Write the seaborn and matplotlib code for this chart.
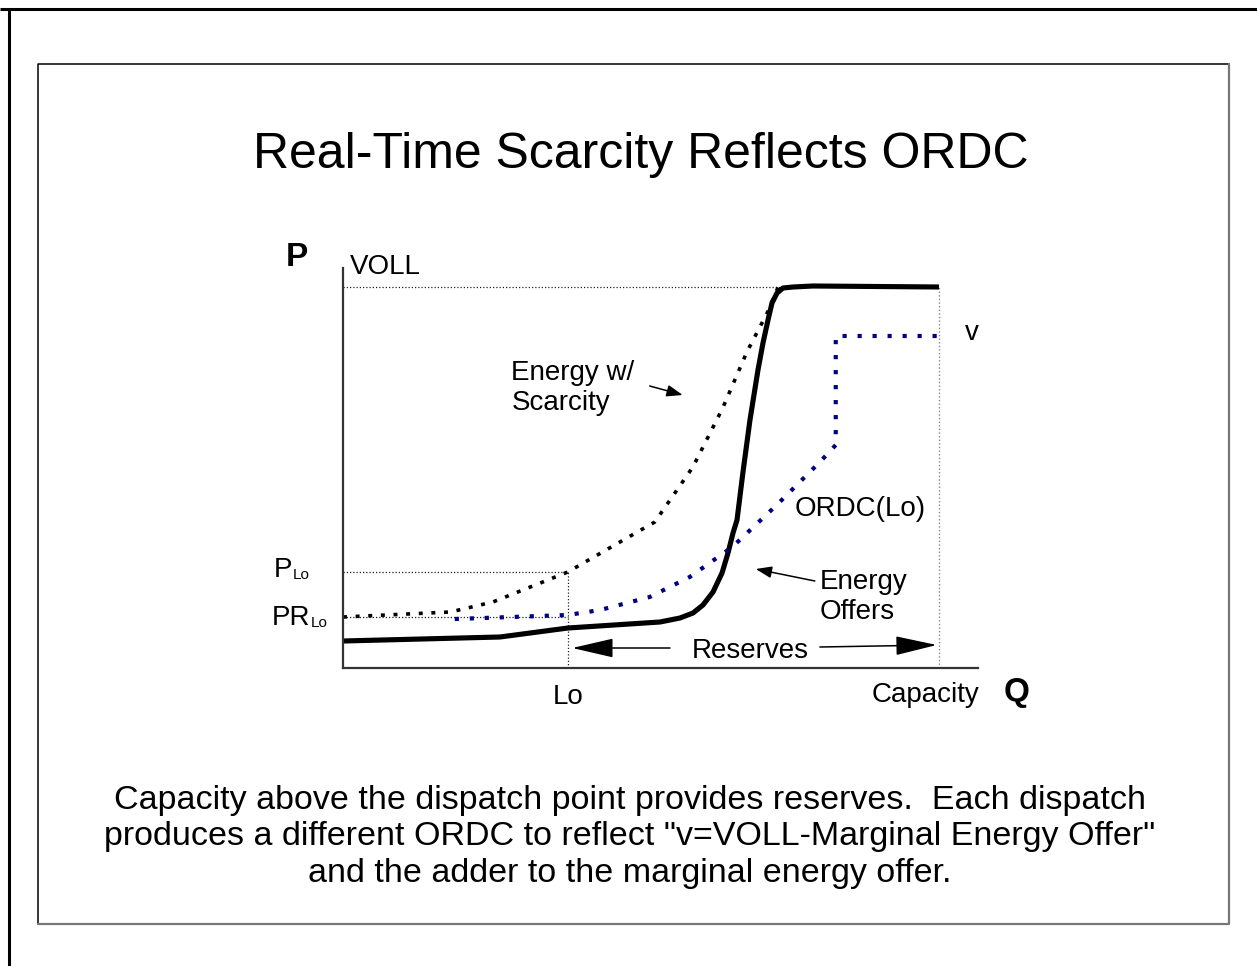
import matplotlib
matplotlib.use("Agg")
import matplotlib.pyplot as plt
import seaborn as sns

# ---- curve data (Q = quantity, P = price, both on a 0-100 scale) ----
offer_q = [0, 24.72, 35.43, 49.92, 53.07, 55.12, 56.69, 58.27, 59.69, 60.63, 61.42, 62.05,
           62.99, 64.09, 65.35, 66.14, 66.93, 67.56, 68.35, 69.29, 70.87, 74.02, 93.86]
offer_p = [6.75, 7.75, 10.0, 11.5, 12.5, 13.75, 15.75, 19.0, 23.75, 28.75, 33.75, 37.0,
           49.0, 62.0, 74.5, 81.25, 87.0, 91.25, 93.75, 95.0, 95.25, 95.5, 95.25]

scarcity_q = [0, 16.9, 23.6, 35.4, 49.1, 55.1, 59.8, 63.6, 66.8, 68.8]
scarcity_p = [12.75, 14.0, 16.5, 24.0, 36.5, 50.25, 65.0, 79.0, 88.75, 96.25]

ordc_q = [17.6, 35.4, 40.5, 48.3, 54.6, 61.3, 68.3, 75.1, 77.6, 77.6, 93.5]
ordc_p = [12.25, 13.25, 14.5, 17.75, 22.75, 30.25, 40.75, 51.5, 55.75, 83.0, 83.0]

# key levels
voll = 95.25
capacity = 93.9
lo = 35.4
p_lo = 24.0
pr_lo = 12.75

title = "Real-Time Scarcity Reflects ORDC"
caption = ('Capacity above the dispatch point provides reserves.  Each dispatch\n'
           'produces a different ORDC to reflect "v=VOLL-Marginal Energy Offer"\n'
           'and the adder to the marginal energy offer.')

sns.set_style("white")
plt.rcParams["font.family"] = ["Liberation Sans", "DejaVu Sans"]
plt.rcParams["text.color"] = "black"

W, H = 1257, 966
fig = plt.figure(figsize=(W / 100, H / 100), dpi=100)

# ---- page decoration layer in pixel units ----
bg = fig.add_axes([0, 0, 1, 1])
bg.set_xlim(0, W)
bg.set_ylim(H, 0)
bg.axis("off")
bg.plot([0, W], [9, 9], color="black", lw=2.2, solid_capstyle="butt")
bg.plot([9, 9], [9, H], color="black", lw=2.2, solid_capstyle="butt")
bg.plot([38, 38, 1229], [924, 64, 64], color="black", lw=1.1)
bg.plot([38, 1229, 1229], [924, 924, 64], color="#777777", lw=1.6)
bg.text(641, 155, title, ha="center", va="center", fontsize=36)
bg.text(630, 837, caption, ha="center", va="center", fontsize=24.5, linespacing=1.23)

# ---- chart axes ----
x0, x1, ytop, ybot = 343, 978, 268, 668
ax = fig.add_axes([x0 / W, (H - ybot) / H, (x1 - x0) / W, (ybot - ytop) / H])
ax.patch.set_alpha(0)
ax.set_xlim(0, 100)
ax.set_ylim(0, 100)
ax.set_xticks([])
ax.set_yticks([])
for s in ["top", "right"]:
    ax.spines[s].set_visible(False)
for s in ["left", "bottom"]:
    ax.spines[s].set_color("#333333")
    ax.spines[s].set_linewidth(1.6)

# thin dotted guide lines
guide = dict(color="#222222", lw=0.9, linestyle=(0, (1, 1.6)))
ax.plot([0, scarcity_q[-1]], [voll, voll], **guide)
ax.plot([0, lo], [p_lo, p_lo], **guide)
ax.plot([0, lo], [pr_lo, pr_lo], **guide)
ax.plot([lo, lo], [0, p_lo], **guide)
ax.plot([capacity, capacity], [0, voll], color="#888888", lw=1.0, linestyle=(0, (1, 1.6)))

# curves
sns.lineplot(x=offer_q, y=offer_p, estimator=None, sort=False, color="black",
             lw=3.7, ax=ax, solid_joinstyle="round", solid_capstyle="butt")
sns.lineplot(x=scarcity_q, y=scarcity_p, estimator=None, sort=False, color="black",
             lw=2.6, linestyle=(0, (1.1, 2.4)), ax=ax)
sns.lineplot(x=ordc_q, y=ordc_p, estimator=None, sort=False, color="#000080",
             lw=3.0, linestyle=(0, (1.0, 2.6)), ax=ax)

# labels
lab = dict(fontsize=20, va="center", clip_on=False)
ax.text(-7.2, 102.5, "P", ha="center", fontweight="bold", fontsize=24, va="center", clip_on=False)
ax.text(1.1, 100.3, "VOLL", ha="left", **lab)
ax.text(98.0, 83.7, "v", ha="left", **lab)
ax.text(26.5, 70.0, "Energy w/\nScarcity", ha="left", linespacing=1.25, **lab)
ax.text(71.2, 39.8, "ORDC(Lo)", ha="left", **lab)
ax.text(75.1, 17.8, "Energy\nOffers", ha="left", linespacing=1.2, **lab)
ax.text(64.1, 4.3, "Reserves", ha="center", **lab)
ax.text(lo, -7.2, "Lo", ha="center", **lab)
ax.text(91.8, -6.7, "Capacity", ha="center", **lab)
ax.text(106.1, -6.0, "Q", ha="center", fontweight="bold", fontsize=24, va="center", clip_on=False)
ax.text(-8.0, 24.6, "P", ha="right", **lab)
ax.text(-7.9, 23.3, "Lo", ha="left", fontsize=11, va="center", clip_on=False)
ax.text(-5.2, 12.4, "PR", ha="right", **lab)
ax.text(-5.0, 11.2, "Lo", ha="left", fontsize=11, va="center", clip_on=False)

# arrows
small = dict(arrowstyle="-|>,head_length=0.6,head_width=0.22", color="black", lw=1.1,
             mutation_scale=16, shrinkA=0, shrinkB=0)
big = dict(arrowstyle="-|>,head_length=1.3,head_width=0.3", color="black", lw=1.1,
           mutation_scale=20, shrinkA=0, shrinkB=0)
ax.annotate("", xy=(53.5, 68.25), xytext=(48.3, 70.5), arrowprops=small, annotation_clip=False)
ax.annotate("", xy=(65.0, 24.75), xytext=(74.3, 21.75), arrowprops=small, annotation_clip=False)
ax.annotate("", xy=(36.1, 5.0), xytext=(51.5, 5.0), arrowprops=big, annotation_clip=False)
ax.annotate("", xy=(93.5, 5.75), xytext=(75.1, 5.25), arrowprops=big, annotation_clip=False)

fig.savefig("out.png", dpi=100)
